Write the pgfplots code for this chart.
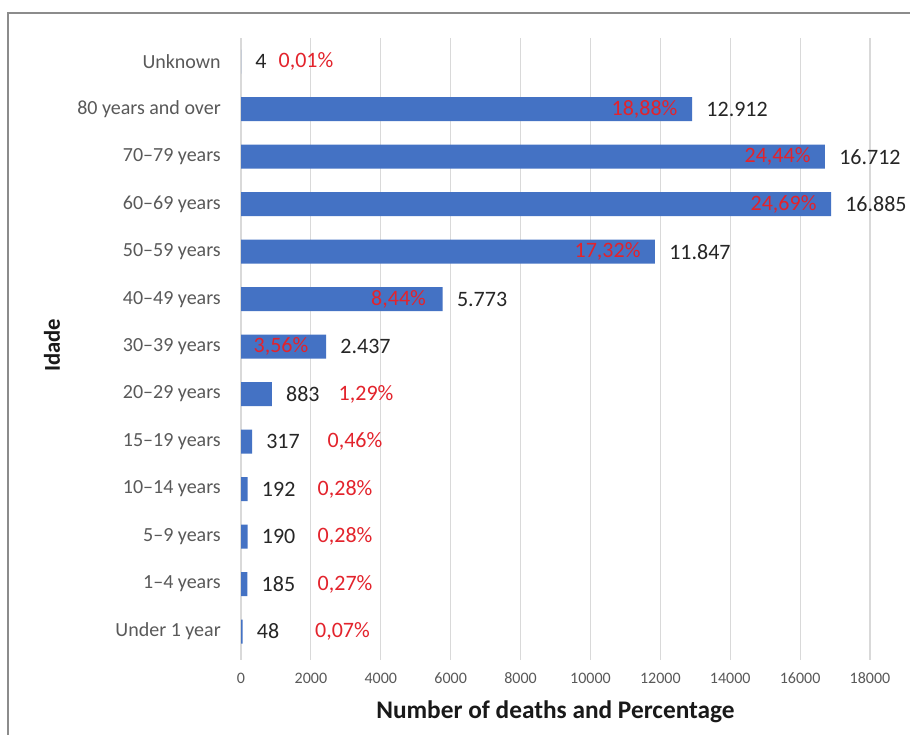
\documentclass[border=0pt]{standalone}
\usepackage{pgfplots}
\usepackage{pgfplotstable}
\usepackage{fontspec}
\setmainfont{Carlito}
\pgfplotsset{compat=1.18}

\definecolor{barblue}{HTML}{4472C4}
\definecolor{pctred}{HTML}{E3232C}
\definecolor{labgray}{HTML}{595959}
\definecolor{gridgray}{HTML}{D9D9D9}
\definecolor{framegray}{HTML}{8C8C8C}

% idx: category position (bottom to top), val: deaths, lab: printed count,
% pct: share of deaths, px: where the share is written
\pgfplotstableread{
idx val   lab    pct   px
0   48    48     0,07  2905
1   185   185    0,27  2977
2   190   190    0,28  2977
3   192   192    0,28  2977
4   317   317    0,46  3263
5   883   883    1,29  3578
6   2437  2.437  3,56  1145
7   5773  5.773  8,44  4508
8   11847 11.847 17,32 10490
9   16885 16.885 24,69 15527
10  16712 16.712 24,44 15355
11  12912 12.912 18,88 11548
12  4     4      0,01  1860
}\deaths

\begin{document}
\begin{tikzpicture}
\useasboundingbox (0,0) rectangle (682.5pt,551.25pt);
\fill[white] (0,0) rectangle (682.5pt,551.25pt);
\draw[framegray, line width=1.5pt] (6pt,-2pt) -- (6pt,541.5pt) -- (690pt,541.5pt);
\begin{axis}[
  at={(180.75pt,56.25pt)}, anchor=south west,
  scale only axis, width=471.75pt, height=466.5pt,
  xmin=0, xmax=18000, ymin=-0.6, ymax=12.5,
  xtick={0,2000,...,18000},
  ytick={0,...,12},
  yticklabels={Under 1 year,1–4 years,5–9 years,10–14 years,15–19 years,
    20–29 years,30–39 years,40–49 years,50–59 years,60–69 years,
    70–79 years,80 years and over,Unknown},
  xmajorgrids, grid style={gridgray, line width=0.8pt},
  axis line style={draw=none}, tick style={draw=none},
  /pgf/number format/assume math mode=true,
  scaled x ticks=false,
  xticklabel={\pgfmathprintnumber[fixed, 1000 sep={}]{\tick}},
  xticklabel style={font=\fontsize{12}{14}\selectfont, text=labgray,
    anchor=base, yshift=-17.3pt},
  yticklabel style={font=\fontsize{15}{18}\selectfont, text=labgray,
    anchor=east, inner sep=0pt, xshift=-15pt},
  xlabel={Number of deaths and Percentage},
  xlabel style={font=\bfseries\fontsize{19}{22}\selectfont, text=black!90,
    at={(axis description cs:0.5,-0.0836)}, anchor=center},
  ylabel={Idade},
  ylabel style={font=\bfseries\fontsize{17}{20}\selectfont, text=black!90,
    at={(axis description cs:-0.3005,0.506)}, anchor=center, rotate=0},
  clip=false,
]
% bars with the count written just past each bar end
\addplot[xbar, bar shift=0pt, bar width=18pt, fill=barblue, draw=none,
  point meta=explicit symbolic,
  nodes near coords,
  every node near coord/.append style={anchor=west, inner sep=0pt,
    xshift=10.5pt, text=black!85, font=\fontsize{16.5}{19}\selectfont}]
  table[x=val, y=idx, meta=lab] {\deaths};
% percentage shares
\addplot[draw=none, mark=none,
  point meta=explicit symbolic,
  nodes near coords={\pgfplotspointmeta\%},
  every node near coord/.append style={anchor=center, inner sep=0pt,
    text=pctred, font=\fontsize{16.5}{19}\selectfont}]
  table[x=px, y=idx, meta=pct] {\deaths};
\end{axis}
\end{tikzpicture}
\end{document}
